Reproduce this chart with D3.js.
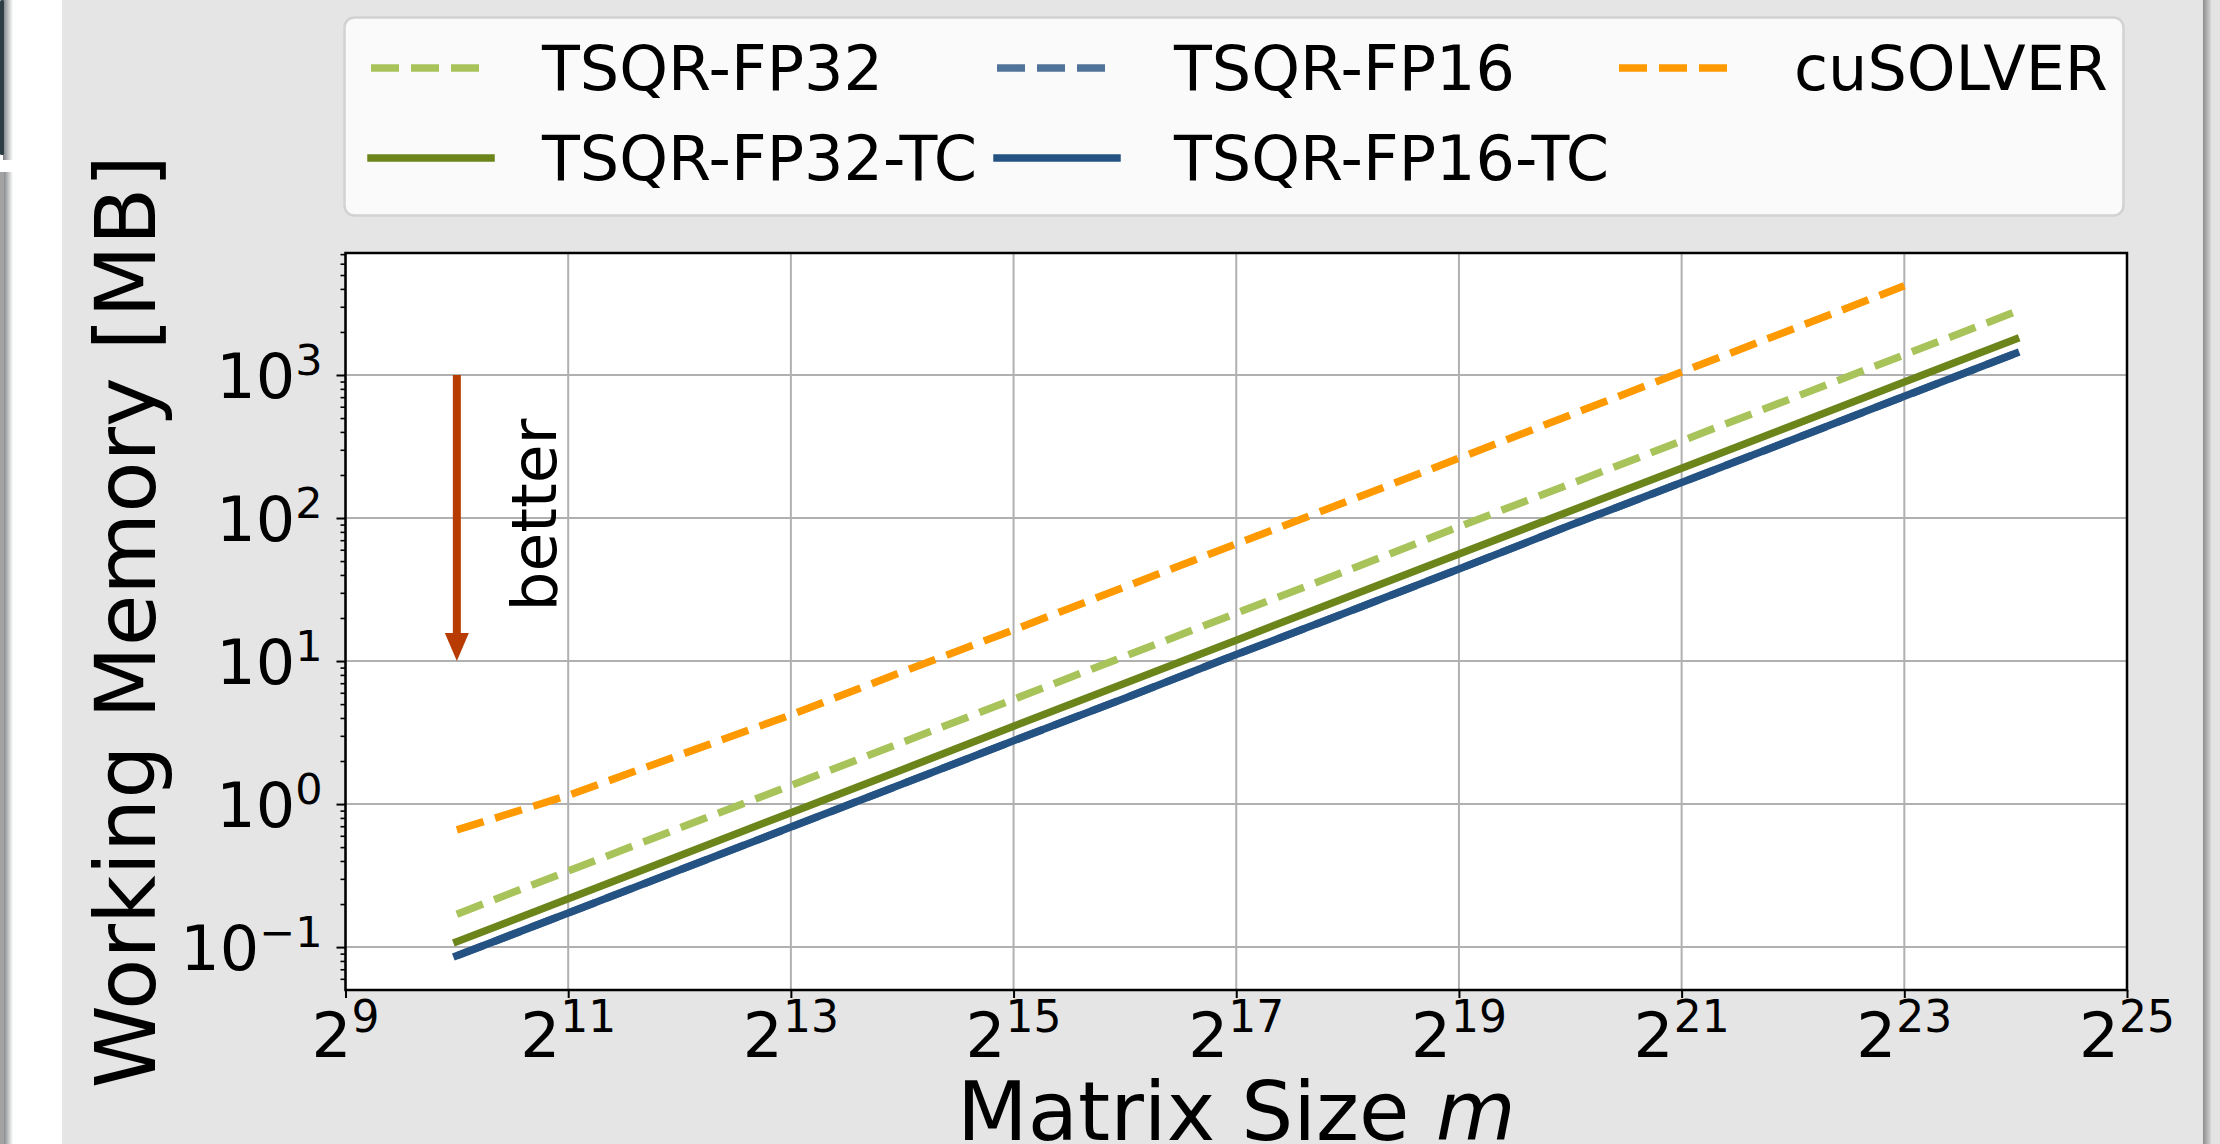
<!DOCTYPE html>
<html>
<head>
<meta charset="utf-8">
<script src="https://cdn.jsdelivr.net/npm/d3@7"></script>
<style>
  body { margin: 0; background: #fff; }
  text { font-family: "DejaVu Sans", sans-serif; fill: #000; }
</style>
</head>
<body>
<svg id="chart" width="2220" height="1144"></svg>
<script>
(function() {
  'use strict';

  // matrix size m = 2^exp
  var tsqrExps = [10, 11, 12, 13, 14, 15, 16, 17, 18, 19, 20, 21, 22, 23, 24];
  var cuExps = [10, 11, 12, 13, 14, 15, 16, 17, 18, 19, 20, 21, 22, 23];

  // working memory in MB
  var fp32 = [0.17, 0.34, 0.68, 1.35, 2.7, 5.4, 10.8, 21.6, 43, 87, 173, 346, 692, 1385, 2770];
  var fp32tc = [0.109, 0.218, 0.436, 0.87, 1.74, 3.5, 7.0, 14, 28, 56, 112, 223, 446, 892, 1785];
  var fp16 = [0.087, 0.173, 0.346, 0.69, 1.38, 2.77, 5.5, 11.1, 22, 44, 89, 177, 354, 709, 1418];
  var fp16tc = [0.087, 0.173, 0.346, 0.69, 1.38, 2.77, 5.5, 11.1, 22, 44, 89, 177, 354, 709, 1418];
  var cusolver = [0.66, 1.15, 2.2, 4.2, 8.4, 16.5, 33, 66, 131, 262, 525, 1050, 2100, 4200];

  var xTickExps = [9, 11, 13, 15, 17, 19, 21, 23, 25];
  var yTickExps = [-1, 0, 1, 2, 3];

  var series = [
    {name: 'TSQR-FP32', exps: tsqrExps, values: fp32, color: '#a8c35a', dashed: true},
    {name: 'TSQR-FP32-TC', exps: tsqrExps, values: fp32tc, color: '#6b851b', dashed: false},
    {name: 'TSQR-FP16', exps: tsqrExps, values: fp16, color: '#50739a', dashed: true},
    {name: 'TSQR-FP16-TC', exps: tsqrExps, values: fp16tc, color: '#245283', dashed: false},
    {name: 'cuSOLVER', exps: cuExps, values: cusolver, color: '#ff9900', dashed: true}
  ];

  var W = 2220, H = 1144;
  var plot = {left: 345.5, right: 2127, top: 253, bottom: 990};
  var lw = 7.5, dash = '28,12';

  var svg = d3.select('#chart');
  var defs = svg.append('defs');

  var shade = function(id, from, to) {
    var g = defs.append('linearGradient').attr('id', id).attr('x1', 0).attr('x2', 1).attr('y1', 0).attr('y2', 0);
    g.append('stop').attr('offset', 0).attr('stop-color', from);
    g.append('stop').attr('offset', 1).attr('stop-color', to);
  };
  shade('leftShade', '#7a7f82', '#ffffff');
  shade('rightShade', '#8c8c8c', '#d6d6d6');

  // screenshot frame round the figure
  svg.append('rect').attr('width', W).attr('height', H).attr('fill', '#fff');
  svg.append('rect').attr('x', 3).attr('y', 0).attr('width', 10).attr('height', 160).attr('fill', 'url(#leftShade)');
  svg.append('rect').attr('x', 0).attr('y', 0).attr('width', 4).attr('height', 155).attr('rx', 1.5).attr('fill', '#2b3c44');
  svg.append('rect').attr('x', 3).attr('y', 172).attr('width', 10).attr('height', H - 172).attr('fill', 'url(#leftShade)');
  svg.append('rect').attr('x', 0).attr('y', 172).attr('width', 4).attr('height', H - 172).attr('fill', '#a3a3a3');
  svg.append('rect').attr('x', 62).attr('y', 0).attr('width', 2203 - 62).attr('height', H).attr('fill', '#e5e5e5');
  svg.append('rect').attr('x', 2203).attr('y', 0).attr('width', 8).attr('height', H).attr('fill', 'url(#rightShade)');
  svg.append('rect').attr('x', 2211).attr('y', 0).attr('width', 9).attr('height', H).attr('fill', '#e3e3e3');

  var x = d3.scaleLog().base(2)
    .domain([Math.pow(2, 9), Math.pow(2, 25)])
    .range([plot.left, plot.right]);
  var y = d3.scaleLog()
    .domain([Math.pow(10, -1.30), Math.pow(10, 3.853)])
    .range([plot.bottom, plot.top]);

  var xTicks = xTickExps.map(function(e) { return Math.pow(2, e); });
  var yTicks = yTickExps.map(function(e) { return Math.pow(10, e); });
  var yMinor = y.ticks().filter(function(v) {
    var l = Math.log10(v);
    return Math.abs(l - Math.round(l)) > 1e-6;
  });

  svg.append('rect')
    .attr('x', plot.left).attr('y', plot.top)
    .attr('width', plot.right - plot.left).attr('height', plot.bottom - plot.top)
    .attr('fill', '#fff');

  // grid
  var grid = svg.append('g').attr('stroke', '#b0b0b0').attr('stroke-width', 2);
  grid.selectAll('line.gx').data(xTicks).enter().append('line')
    .attr('x1', x).attr('x2', x)
    .attr('y1', plot.top).attr('y2', plot.bottom);
  grid.selectAll('line.gy').data(yTicks).enter().append('line')
    .attr('y1', y).attr('y2', y)
    .attr('x1', plot.left).attr('x2', plot.right);

  // series
  var line = d3.line()
    .x(function(d) { return x(Math.pow(2, d[0])); })
    .y(function(d) { return y(d[1]); });

  series.forEach(function(s) {
    svg.append('path')
      .datum(d3.zip(s.exps, s.values))
      .attr('d', line)
      .attr('fill', 'none')
      .attr('stroke', s.color)
      .attr('stroke-width', lw)
      .attr('stroke-linecap', s.dashed ? 'butt' : 'square')
      .attr('stroke-dasharray', s.dashed ? dash : null);
  });

  // "better" arrow
  var ax = x(Math.pow(2, 10));
  var aTop = y(1000), aTip = y(10);
  svg.append('line')
    .attr('x1', ax).attr('x2', ax)
    .attr('y1', aTop).attr('y2', aTip - 26)
    .attr('stroke', '#b83c02').attr('stroke-width', 8);
  svg.append('path')
    .attr('d', d3.line()([[ax - 12, aTip - 28], [ax + 12, aTip - 28], [ax, aTip]]))
    .attr('fill', '#b83c02');
  svg.append('text')
    .attr('transform', 'translate(' + (ax + 99) + ',' + (y(100) - 3) + ') rotate(-90)')
    .attr('text-anchor', 'middle')
    .attr('font-size', 63)
    .text('better');

  // axes
  var xAxis = svg.append('g')
    .attr('transform', 'translate(0,' + plot.bottom + ')')
    .call(d3.axisBottom(x).tickValues(xTicks).tickSize(8).tickFormat(''));
  var yAxis = svg.append('g')
    .attr('transform', 'translate(' + plot.left + ',0)')
    .call(d3.axisLeft(y).tickValues(yTicks).tickSize(9).tickFormat(''));
  var yAxisMinor = svg.append('g')
    .attr('transform', 'translate(' + plot.left + ',0)')
    .call(d3.axisLeft(y).tickValues(yMinor).tickSize(5).tickFormat(''));

  [xAxis, yAxis, yAxisMinor].forEach(function(a) {
    a.select('.domain').remove();
    a.selectAll('.tick line').attr('stroke', '#000').attr('stroke-width', 2);
  });
  yAxisMinor.selectAll('.tick line').attr('stroke-width', 1.6);

  svg.append('rect')
    .attr('x', plot.left).attr('y', plot.top)
    .attr('width', plot.right - plot.left).attr('height', plot.bottom - plot.top)
    .attr('fill', 'none').attr('stroke', '#000').attr('stroke-width', 2.5);

  // tick labels with superscripts
  var xl = svg.append('g').selectAll('text').data(xTickExps).enter().append('text')
    .attr('x', function(e) { return x(Math.pow(2, e)); })
    .attr('y', plot.bottom + 67)
    .attr('text-anchor', 'middle');
  xl.append('tspan').attr('font-size', 63).text('2');
  xl.append('tspan').attr('font-size', 44).attr('dy', -25).text(function(e) { return e; });

  var yl = svg.append('g').selectAll('text').data(yTickExps).enter().append('text')
    .attr('x', plot.left - 23)
    .attr('y', function(e) { return y(Math.pow(10, e)) + 23; })
    .attr('text-anchor', 'end');
  yl.append('tspan').attr('font-size', 62).text('10');
  yl.append('tspan').attr('font-size', 43).attr('dy', -23)
    .text(function(e) { return e < 0 ? '\u2212' + (-e) : e; });

  // axis titles
  var xt = svg.append('text')
    .attr('x', (plot.left + plot.right) / 2)
    .attr('y', 1140)
    .attr('text-anchor', 'middle')
    .attr('font-size', 82);
  xt.append('tspan').text('Matrix Size ');
  xt.append('tspan').attr('font-style', 'italic').text('m');

  svg.append('text')
    .attr('transform', 'translate(155,' + (plot.top + plot.bottom) / 2 + ') rotate(-90)')
    .attr('text-anchor', 'middle')
    .attr('font-size', 84)
    .text('Working Memory [MB]');

  // legend, filled column by column
  var colHandle = [371, 997, 1619], colText = [542, 1174, 1794], rowY = [68, 158];
  svg.append('rect')
    .attr('x', 344.5).attr('y', 17.5).attr('width', 1779).attr('height', 198).attr('rx', 10)
    .attr('fill', '#fafafa').attr('stroke', '#d2d2d2').attr('stroke-width', 2.5);

  var item = svg.append('g').selectAll('g').data(series).enter().append('g')
    .attr('transform', function(d, i) {
      return 'translate(0,' + rowY[i % 2] + ')';
    });
  item.append('line')
    .attr('x1', function(d, i) { return colHandle[Math.floor(i / 2)]; })
    .attr('x2', function(d, i) { return colHandle[Math.floor(i / 2)] + 120; })
    .attr('stroke', function(d) { return d.color; })
    .attr('stroke-width', lw)
    .attr('stroke-linecap', function(d) { return d.dashed ? 'butt' : 'square'; })
    .attr('stroke-dasharray', function(d) { return d.dashed ? dash : null; });
  item.append('text')
    .attr('x', function(d, i) { return colText[Math.floor(i / 2)]; })
    .attr('y', 22)
    .attr('font-size', 62)
    .text(function(d) { return d.name; });
}).call(this);
</script>
</body>
</html>
